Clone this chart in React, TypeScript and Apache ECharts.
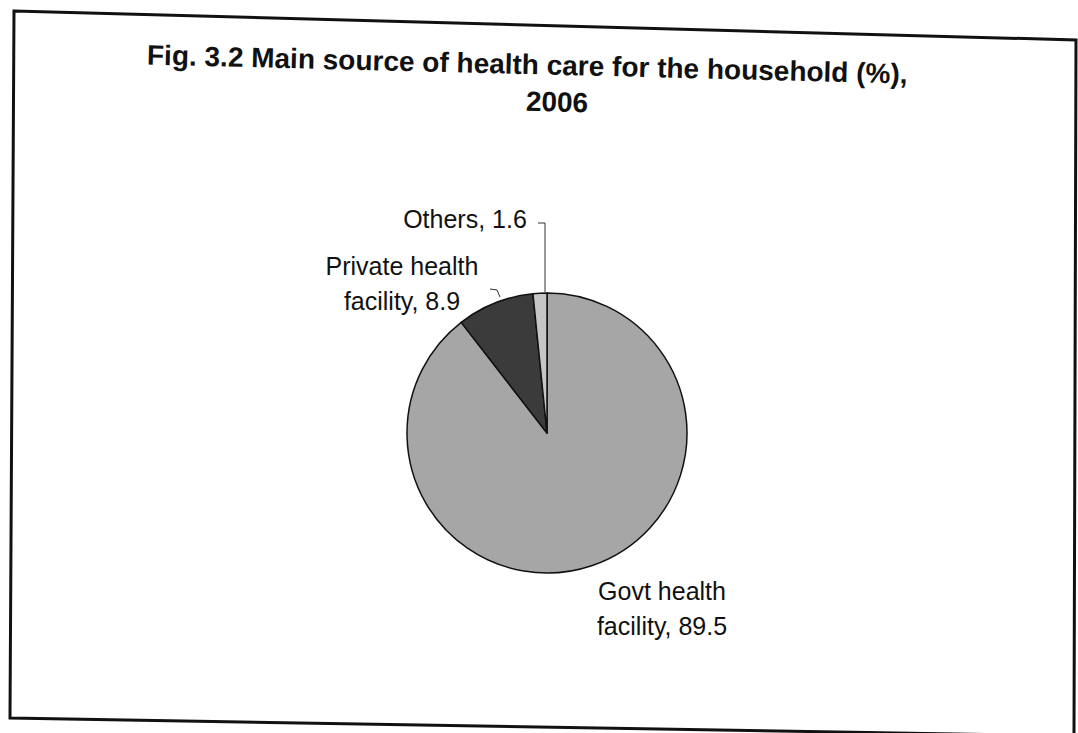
import React, { useEffect, useRef } from "react";
import * as echarts from "echarts";

const categories = ["Govt health facility", "Private health facility", "Others"];
const values = [89.5, 8.9, 1.6];
const sliceColors = ["#a6a6a6", "#3b3b3b", "#c6c6c6"];
const titleLine1 = "Fig. 3.2 Main source of health care for the household (%),";
const titleLine2 = "2006";

const FONT = "'Liberation Sans', Arial, Helvetica, sans-serif";

export default function App() {
  const ref = useRef<HTMLDivElement>(null);

  useEffect(() => {
    if (!ref.current) return;
    const chart = echarts.init(ref.current, undefined, { renderer: "svg" });

    const labelSpots: Record<number, any> = {
      0: { x: 662, y: 608, points: null },
      1: { x: 402, y: 283, points: [[490, 289], [497, 290], [500, 297]] },
      2: { x: 465, y: 219, points: [[538, 223], [545, 223], [545, 292]] },
    };

    chart.setOption({
      animation: false,
      backgroundColor: "#ffffff",
      graphic: [
        {
          type: "polygon",
          silent: true,
          shape: { points: [[14, 11], [1076, 40], [1074, 736], [10, 718]] },
          style: { fill: "none", stroke: "#111", lineWidth: 3 },
        },
        {
          type: "text",
          x: 147,
          y: 55,
          rotation: -0.025,
          silent: true,
          style: {
            text: titleLine1,
            font: `bold 28px ${FONT}`,
            fill: "#111",
            align: "left",
            verticalAlign: "middle",
          },
        },
        {
          type: "text",
          x: 557,
          y: 102,
          rotation: -0.025,
          silent: true,
          style: {
            text: titleLine2,
            font: `bold 28px ${FONT}`,
            fill: "#111",
            align: "center",
            verticalAlign: "middle",
          },
        },
      ],
      series: [
        {
          type: "pie",
          center: [547, 433],
          radius: 140,
          startAngle: 90,
          clockwise: true,
          silent: true,
          emphasis: { disabled: true },
          itemStyle: { borderColor: "#111", borderWidth: 1.5 },
          label: {
            show: true,
            position: "outside",
            fontFamily: FONT,
            fontSize: 25,
            color: "#111",
            lineHeight: 35,
            align: "center",
            formatter: (p: any) =>
              `${String(p.name).replace(" facility", "\nfacility")}, ${p.value}`,
          },
          labelLine: {
            show: true,
            lineStyle: { color: "#333", width: 1 },
          },
          labelLayout: (params: any) => {
            const s = labelSpots[params.dataIndex];
            const out: any = {
              x: s.x,
              y: s.y,
              align: "center",
              verticalAlign: "middle",
            };
            if (s.points) out.labelLinePoints = s.points;
            else out.labelLinePoints = [[0, 0], [0, 0], [0, 0]];
            return out;
          },
          data: categories.map((c, i) => ({
            name: c,
            value: values[i],
            itemStyle: { color: sliceColors[i] },
            labelLine: { show: i !== 0 },
          })),
        },
      ],
    });

    return () => chart.dispose();
  }, []);

  return (
    <div
      ref={ref}
      style={{ position: "fixed", left: 0, top: 0, width: 1078, height: 733 }}
    />
  );
}
